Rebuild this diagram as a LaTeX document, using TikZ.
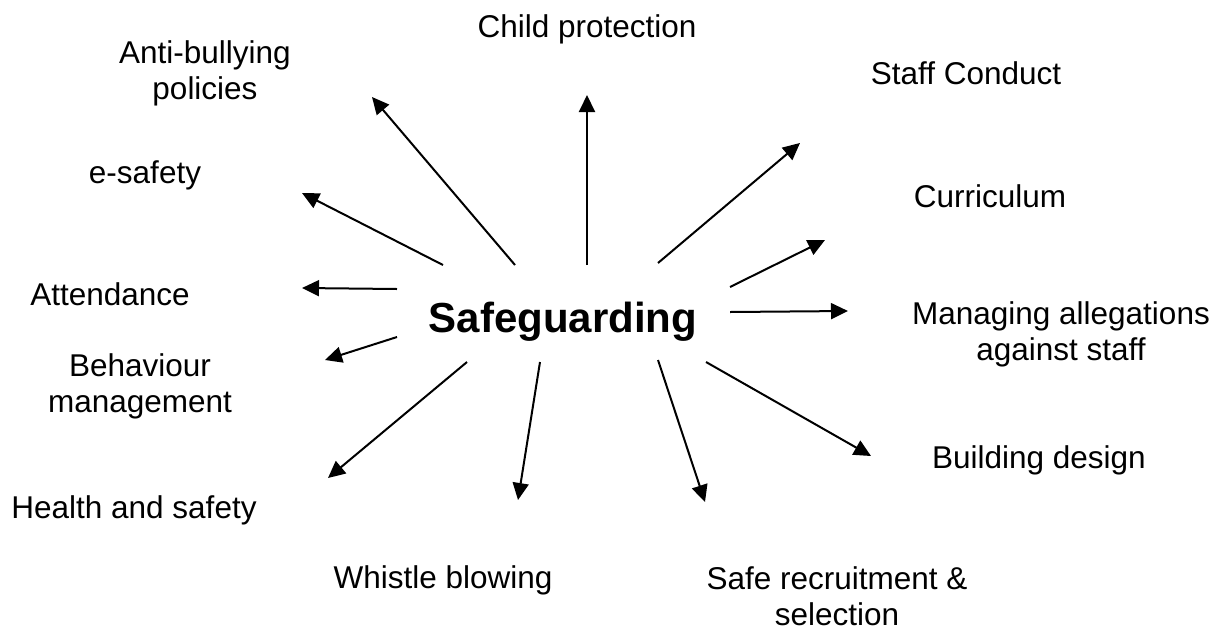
\documentclass[tikz,border=0pt]{standalone}
\usepackage{fontspec}
\setmainfont{Liberation Sans}
\usetikzlibrary{arrows.meta}
\begin{document}
\begin{tikzpicture}[x=1pt,y=-1pt,
  lbl/.style={align=center,inner sep=0pt,font=\fontsize{31.5}{36}\selectfont},
  hub/.style={inner sep=0pt,font=\fontsize{42}{48}\selectfont\bfseries},
  arr/.style={line width=2pt,-{Triangle[length=17pt,width=16pt]}}]
\useasboundingbox (0,0) rectangle (1229,630);
\fill[white] (0,0) rectangle (1229,630);
% hub
\node[hub] (hub) at (563,322) {Safeguarding};
% labels
\node[lbl] (anti) at (205,73) {Anti-bullying\\policies};
\node[lbl] (child) at (587,29) {Child protection};
\node[lbl] (staff) at (966,73) {Staff Conduct};
\node[lbl] (curr) at (990,196) {Curriculum};
\node[lbl] (manag) at (1061,334) {Managing allegations\\against staff};
\node[lbl] (build) at (1039,460) {Building design};
\node[lbl] (safe) at (837,596) {Safe recruitment \&\\selection};
\node[lbl] (whistle) at (443,580) {Whistle blowing};
\node[lbl] (health) at (134,510) {Health and safety};
\node[lbl] (behav) at (140,386) {Behaviour\\management};
\node[lbl] (attend) at (110,294) {Attendance};
\node[lbl] (esafe) at (145,175) {e-safety};
% arrow ends
\coordinate (s1) at (515,265); \coordinate (t1) at (372,97);
\coordinate (s2) at (587,265); \coordinate (t2) at (587,95);
\coordinate (s3) at (658,263); \coordinate (t3) at (800,143);
\coordinate (s4) at (730,287); \coordinate (t4) at (825,240);
\coordinate (s5) at (730,312); \coordinate (t5) at (848,311);
\coordinate (s6) at (706,362); \coordinate (t6) at (871,456);
\coordinate (s7) at (658,360); \coordinate (t7) at (705,502);
\coordinate (s8) at (540,362); \coordinate (t8) at (518,500);
\coordinate (s9) at (467,362); \coordinate (t9) at (328,478);
\coordinate (s10) at (397,337); \coordinate (t10) at (325,360);
\coordinate (s11) at (397,289); \coordinate (t11) at (302,288);
\coordinate (s12) at (443,265); \coordinate (t12) at (302,193);
\foreach \i in {1,...,12}{\draw[arr] (s\i) -- (t\i);}
\end{tikzpicture}
\end{document}
